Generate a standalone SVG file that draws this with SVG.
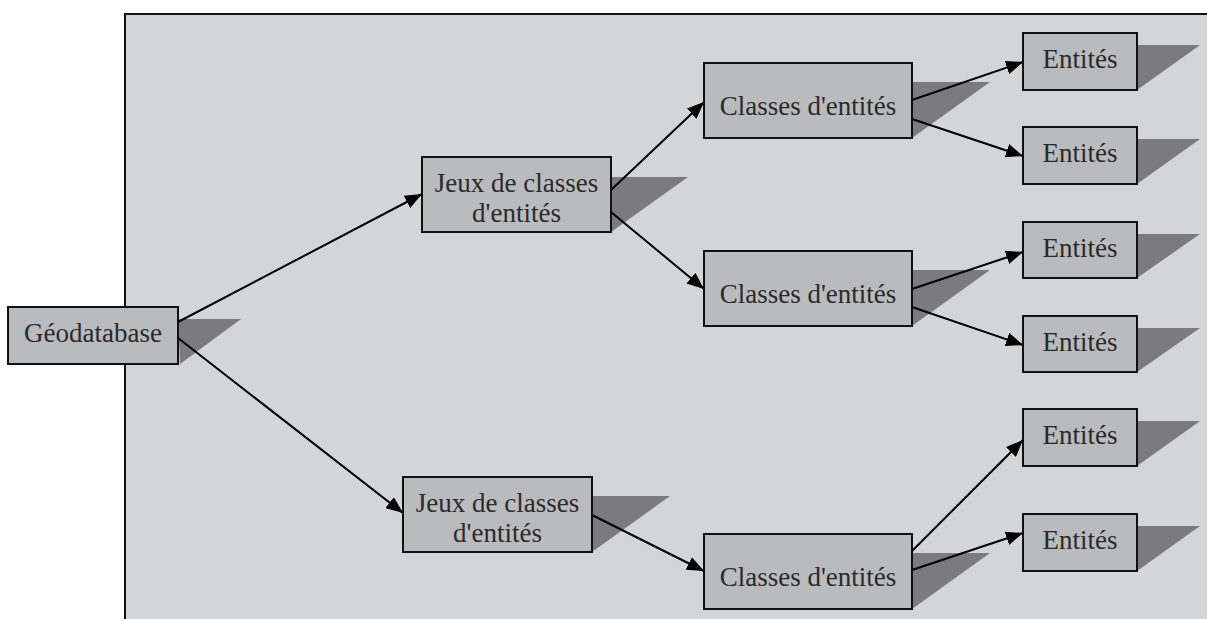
<svg xmlns="http://www.w3.org/2000/svg" width="1207" height="619" viewBox="0 0 1207 619">
<defs>
<style>
.box{fill:#b9bbbe;stroke:#111;stroke-width:2}
.sh{fill:#7b7b7f}
.t{font-family:"Liberation Serif","Times New Roman",serif;font-size:27px;fill:#2a2a2a;text-anchor:middle}
.c{stroke:#000;stroke-width:2;fill:none;marker-end:url(#ah)}
</style>
<marker id="ah" markerUnits="userSpaceOnUse" markerWidth="18" markerHeight="14" refX="17" refY="7" orient="auto">
<path d="M0,0 L17,7 L0,14 Z" fill="#000"/>
</marker>
</defs>
<rect width="1207" height="619" fill="#fff"/>
<rect x="125" y="14" width="1082" height="605" fill="#d4d5d7"/>
<path d="M125,619 V14 H1207" fill="none" stroke="#111" stroke-width="2"/>
<g id="geodatabase">
<polygon class="sh" points="178,319 241,319 180,364"/>
<rect class="box" x="8" y="307" width="170" height="57"/>
<text class="t" x="93" y="342">Géodatabase</text>
</g>
<g id="jeux1">
<polygon class="sh" points="611,177 688,177 611,232"/>
<rect class="box" x="422" y="157" width="189" height="75"/>
<text class="t" x="516.5" y="192">Jeux de classes</text>
<text class="t" x="516.5" y="222">d'entités</text>
</g>
<g id="jeux2">
<polygon class="sh" points="592,496 670,496 592,552"/>
<rect class="box" x="403" y="477" width="189" height="75"/>
<text class="t" x="497.5" y="512">Jeux de classes</text>
<text class="t" x="497.5" y="542">d'entités</text>
</g>
<g id="classes1">
<polygon class="sh" points="912,82 990,82 912,138"/>
<rect class="box" x="704" y="63" width="208" height="75"/>
<text class="t" x="808" y="115">Classes d'entités</text>
</g>
<g id="classes2">
<polygon class="sh" points="912,270 990,270 912,326"/>
<rect class="box" x="704" y="251" width="208" height="75"/>
<text class="t" x="808" y="303">Classes d'entités</text>
</g>
<g id="classes3">
<polygon class="sh" points="912,553 990,553 912,609"/>
<rect class="box" x="704" y="534" width="208" height="75"/>
<text class="t" x="808" y="586">Classes d'entités</text>
</g>
<g id="entites1">
<polygon class="sh" points="1137,45 1200,45 1137,90"/>
<rect class="box" x="1023" y="33" width="114" height="57"/>
<text class="t" x="1080" y="68">Entités</text>
</g>
<g id="entites2">
<polygon class="sh" points="1137,139 1200,139 1137,184"/>
<rect class="box" x="1023" y="127" width="114" height="57"/>
<text class="t" x="1080" y="162">Entités</text>
</g>
<g id="entites3">
<polygon class="sh" points="1137,234 1200,234 1137,278"/>
<rect class="box" x="1023" y="222" width="114" height="56"/>
<text class="t" x="1080" y="257">Entités</text>
</g>
<g id="entites4">
<polygon class="sh" points="1137,328 1200,328 1137,372"/>
<rect class="box" x="1023" y="316" width="114" height="56"/>
<text class="t" x="1080" y="351">Entités</text>
</g>
<g id="entites5">
<polygon class="sh" points="1137,421 1200,421 1137,466"/>
<rect class="box" x="1023" y="409" width="114" height="57"/>
<text class="t" x="1080" y="444">Entités</text>
</g>
<g id="entites6">
<polygon class="sh" points="1137,526 1200,526 1137,571"/>
<rect class="box" x="1023" y="514" width="114" height="57"/>
<text class="t" x="1080" y="549">Entités</text>
</g>
<g id="connectors">
<line class="c" x1="178" y1="322" x2="422" y2="194"/>
<line class="c" x1="178" y1="338" x2="403" y2="513"/>
<line class="c" x1="611" y1="190" x2="704" y2="102"/>
<line class="c" x1="611" y1="212" x2="704" y2="289"/>
<line class="c" x1="912" y1="100" x2="1023" y2="62"/>
<line class="c" x1="912" y1="119" x2="1023" y2="156"/>
<line class="c" x1="912" y1="289" x2="1023" y2="252"/>
<line class="c" x1="912" y1="307" x2="1023" y2="345"/>
<line class="c" x1="592" y1="515" x2="704" y2="571"/>
<line class="c" x1="912" y1="551" x2="1023" y2="440"/>
<line class="c" x1="912" y1="570" x2="1023" y2="533"/>
</g>
</svg>
